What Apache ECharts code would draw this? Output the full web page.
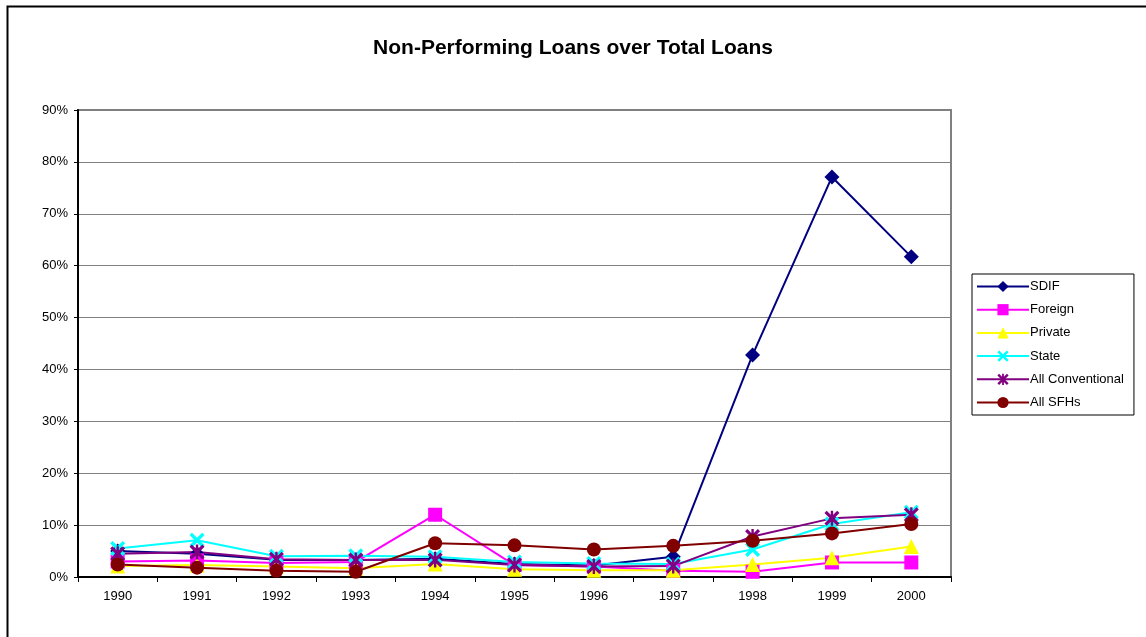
<!DOCTYPE html>
<html>
<head>
<meta charset="utf-8">
<script src="https://cdn.jsdelivr.net/npm/echarts@6/dist/echarts.min.js"></script>
<style>
html,body{margin:0;padding:0;background:#fff;}
#chart{width:1146px;height:637px;}
</style>
</head>
<body>
<div id="chart"></div>
<script>
const categories = ['1990','1991','1992','1993','1994','1995','1996','1997','1998','1999','2000'];
const sdif = [5.0, 4.5, 3.3, 3.3, 3.5, 2.5, 2.2, 3.9, 42.8, 77.1, 61.7];
const foreign = [3.0, 3.2, 2.7, 2.9, 12.0, 2.3, 2.0, 1.2, 1.0, 2.8, 2.8];
const privateB = [2.1, 2.3, 2.0, 1.7, 2.5, 1.5, 1.3, 1.3, 2.4, 3.7, 5.9];
const state = [5.5, 7.1, 4.0, 4.1, 3.9, 2.9, 2.6, 2.5, 5.3, 10.2, 12.5];
const allConv = [4.5, 4.8, 3.4, 3.3, 3.3, 2.3, 2.0, 2.1, 7.8, 11.3, 12.0];
const allSFH = [2.4, 1.8, 1.2, 1.0, 6.5, 6.1, 5.3, 6.0, 7.0, 8.4, 10.2];
const seriesNames = ['SDIF','Foreign','Private','State','All Conventional','All SFHs'];

const xSym = 'path://M0,1.6 L1.6,0 L10,8.4 L8.4,10 Z M8.4,0 L10,1.6 L1.6,10 L0,8.4 Z';
const starSym = 'path://M0,1.5 L1.5,0 L10,8.5 L8.5,10 Z M8.5,0 L10,1.5 L1.5,10 L0,8.5 Z M4.2,0 L5.8,0 L5.8,10 L4.2,10 Z';

const font = 'Liberation Sans, Arial, sans-serif';
function mk(name, data, color, symbol, size) {
  return {
    name, type: 'line', data,
    symbol, symbolSize: size,
    showAllSymbol: true,
    lineStyle: { color, width: 2 },
    itemStyle: { color, borderWidth: 0 },
    emphasis: { disabled: true },
    animation: false
  };
}

const chart = echarts.init(document.getElementById('chart'));
chart.setOption({
  backgroundColor: '#fff',
  animation: false,
  title: {
    text: 'Non-Performing Loans over Total Loans',
    left: 'center', top: 33,
    textStyle: { fontFamily: font, fontSize: 21, fontWeight: 'bold', color: '#000' }
  },
  graphic: [{
    type: 'rect', left: 5, top: 4, shape: { width: 1160, height: 660 },
    style: { fill: 'none', stroke: '#000', lineWidth: 2 }, silent: true
  }],
  legend: {
    orient: 'vertical', left: 972, top: 274,
    padding: [6, 10, 6, 4],
    borderColor: '#000', borderWidth: 1,
    itemWidth: 52, itemHeight: 14, itemGap: 10.2,
    textStyle: { fontFamily: font, fontSize: 13, color: '#000', padding: [0,0,0,-4] },
    data: seriesNames
  },
  grid: {
    left: 78, right: 195, top: 110, bottom: 60,
    show: true, borderColor: '#808080', borderWidth: 2, backgroundColor: '#fff'
  },
  xAxis: {
    type: 'category', data: categories, boundaryGap: true,
    axisLine: { lineStyle: { color: '#000', width: 2 } },
    axisTick: { show: true, interval: 0, alignWithLabel: false, length: 5, lineStyle: { color: '#000' } },
    axisLabel: { fontFamily: font, fontSize: 13, color: '#000', margin: 13 },
    splitLine: { show: false }
  },
  yAxis: {
    type: 'value', min: 0, max: 90, interval: 10,
    axisLine: { show: true, lineStyle: { color: '#000', width: 2 } },
    axisTick: { show: true, length: 4, lineStyle: { color: '#000' } },
    axisLabel: { fontFamily: font, fontSize: 13, color: '#000', margin: 10, formatter: '{value}%' },
    splitLine: { show: true, lineStyle: { color: '#808080', width: 1 } }
  },
  series: [
    mk('SDIF', sdif, '#000080', 'diamond', 15),
    mk('Foreign', foreign, '#FF00FF', 'rect', 14),
    mk('Private', privateB, '#FFFF00', 'triangle', 15),
    mk('State', state, '#00FFFF', xSym, 15),
    mk('All Conventional', allConv, '#800080', starSym, 15),
    mk('All SFHs', allSFH, '#800000', 'circle', 14)
  ]
});
</script>
</body>
</html>
